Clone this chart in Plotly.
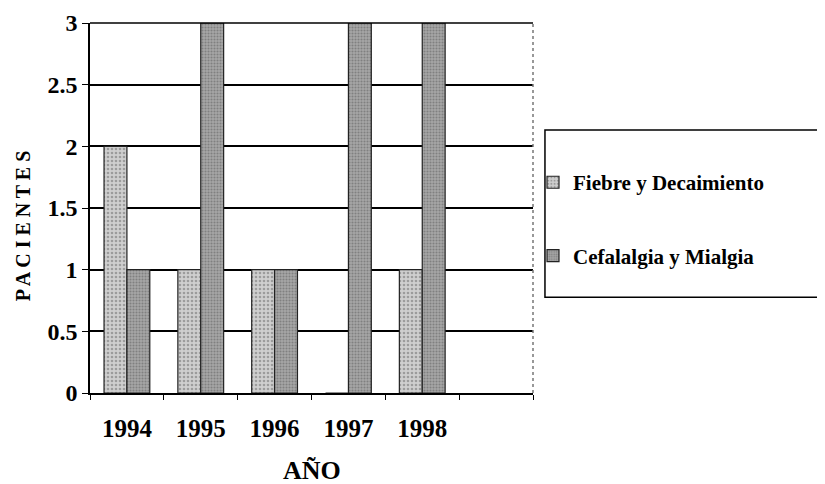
import plotly.graph_objects as go

years = ["1994", "1995", "1996", "1997", "1998"]
axis_categories = ["1994", "1995", "1996", "1997", "1998", " "]
fiebre = [2, 1, 1, 0, 1]
cefalalgia = [1, 3, 1, 3, 3]
y_ticks = [0, 0.5, 1, 1.5, 2, 2.5, 3]
y_tick_labels = ["0", "0.5", "1", "1.5", "2", "2.5", "3"]

FONT = "Liberation Serif"

fig = go.Figure()
fig.add_trace(go.Bar(
    x=years, y=fiebre, name="Fiebre y Decaimiento", legendgroup="a",
    marker=dict(color="#c4c4c4", line=dict(color="#222222", width=1.2),
                pattern=dict(shape=".", fgcolor="#6a6a6a", bgcolor="#cfcfcf", size=4, solidity=0.35)),
))
fig.add_trace(go.Bar(
    x=years, y=cefalalgia, name="Cefalalgia y Mialgia", legendgroup="b",
    marker=dict(color="#9a9a9a", line=dict(color="#222222", width=1.2),
                pattern=dict(shape=".", fgcolor="#5a5a5a", bgcolor="#a6a6a6", size=3, solidity=0.4)),
))

fig.update_layout(
    width=825, height=484,
    margin=dict(l=82, r=300, t=15, b=99, autoexpand=False),
    paper_bgcolor="white", plot_bgcolor="white",
    barmode="group", bargap=0.38, bargroupgap=0,
    font=dict(family=FONT, color="black"),
    showlegend=True,
    legend=dict(
        x=1.0, xanchor="left", y=0.47, yanchor="middle",
        borderwidth=0, bgcolor="rgba(0,0,0,0)",
        font=dict(family=FONT, size=21, color="black", weight="bold"),
        tracegroupgap=43, itemwidth=30,
    ),
    xaxis=dict(
        type="category", categoryorder="array", categoryarray=axis_categories,
        range=[-0.5, 5.5], tickson="boundaries", automargin=False,
        ticks="outside", ticklen=5, tickcolor="black", ticklabelstandoff=12,
        showline=True, linecolor="black", linewidth=1.5, mirror=False,
        showgrid=False,
        tickfont=dict(family=FONT, size=25, color="black", weight="bold"),
    ),
    yaxis=dict(
        range=[0, 3], tickvals=y_ticks, ticktext=y_tick_labels, automargin=False,
        ticklabeloverflow="allow",
        ticks="outside", ticklen=6, tickcolor="black",
        showline=True, linecolor="black", linewidth=1.5, mirror=False,
        showgrid=True, gridcolor="black", gridwidth=1.5,
        zeroline=False,
        tickfont=dict(family=FONT, size=24, color="black", weight="bold"),
    ),
    annotations=[
        dict(text="AÑO", xref="paper", yref="paper", x=0.5, y=-0.21, yanchor="middle",
             showarrow=False, font=dict(family=FONT, size=26, color="black", weight="bold")),
        dict(text="P A C I E N T E S", xref="paper", yref="paper", x=-0.152, y=0.45,
             xanchor="center", yanchor="middle",
             textangle=-90, showarrow=False,
             font=dict(family=FONT, size=20, color="black", weight="bold")),
    ],
    shapes=[
        dict(type="line", xref="paper", yref="paper", x0=0, x1=1, y0=1, y1=1,
             line=dict(color="black", width=1.5)),
        dict(type="line", xref="paper", yref="paper", x0=1, x1=1, y0=0, y1=1,
             line=dict(color="#777777", width=1.5, dash="dot")),
        dict(type="rect", xref="paper", yref="paper", x0=1.027, x1=1.72, y0=0.259, y1=0.711,
             line=dict(color="black", width=1.5), fillcolor="rgba(0,0,0,0)", layer="below"),
    ],
)

fig.write_html("out.html")
